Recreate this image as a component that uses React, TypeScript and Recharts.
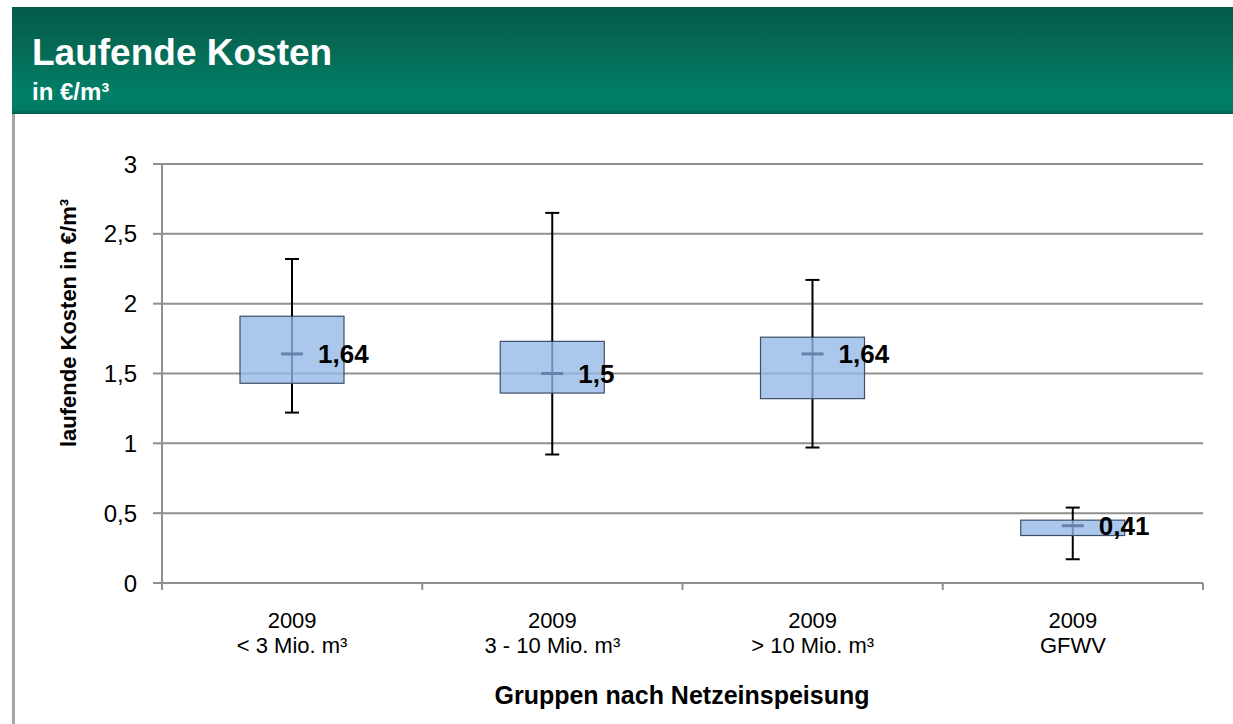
import React from 'react';
import { ComposedChart, Bar, XAxis, YAxis, CartesianGrid } from 'recharts';

const years = ['2009', '2009', '2009', '2009'];
const groups = ['< 3 Mio. m³', '3 - 10 Mio. m³', '> 10 Mio. m³', 'GFWV'];
const whiskerLow = [1.22, 0.92, 0.97, 0.17];
const quart1 = [1.43, 1.36, 1.32, 0.34];
const medians = [1.64, 1.5, 1.64, 0.41];
const quart3 = [1.91, 1.73, 1.76, 0.45];
const whiskerHigh = [2.32, 2.65, 2.17, 0.54];
const yTicks = [0, 0.5, 1, 1.5, 2, 2.5, 3];

const data = groups.map((g, i) => ({
  name: g,
  year: years[i],
  base: whiskerLow[i],
  lower: quart1[i] - whiskerLow[i],
  box: quart3[i] - quart1[i],
  upper: whiskerHigh[i] - quart3[i],
  q3: quart3[i],
  median: medians[i],
}));

const FONT = '"Liberation Sans", Arial, sans-serif';
const GRID = '#8f8f8f';
const W = 1233;
const H = 724;
const LEFT = 162;
const RIGHT = 30;
const HALF_BAND = (W - LEFT - RIGHT) / groups.length / 2;
const CAP = 7;

const fmt = (v: number) => String(v).replace('.', ',');

const LowerWhisker = (props: any) => {
  const { x, y, width, height } = props;
  const cx = x + width / 2;
  return (
    <g>
      <line x1={cx} x2={cx} y1={y} y2={y + height} stroke="#000" strokeWidth={2} />
      <line x1={cx - CAP} x2={cx + CAP} y1={y + height} y2={y + height} stroke="#000" strokeWidth={2} />
    </g>
  );
};

const UpperWhisker = (props: any) => {
  const { x, y, width, height } = props;
  const cx = x + width / 2;
  return (
    <g>
      <line x1={cx} x2={cx} y1={y} y2={y + height} stroke="#000" strokeWidth={2} />
      <line x1={cx - CAP} x2={cx + CAP} y1={y} y2={y} stroke="#000" strokeWidth={2} />
    </g>
  );
};

const BoxShape = (props: any) => {
  const { x, y, width, height, payload } = props;
  const cx = x + width / 2;
  // median position from the bar's own pixel scale
  const perUnit = height / payload.box;
  const my = y + (payload.q3 - payload.median) * perUnit;
  return (
    <g>
      <line x1={cx} x2={cx} y1={y} y2={y + height} stroke="#000" strokeWidth={2} />
      <rect x={x} y={y} width={width} height={height} fill="#94b7e6" fillOpacity={0.78} stroke="#3d4f68" strokeWidth={1.2} />
      <rect x={cx - 11} y={my - 1.5} width={22} height={3} fill="#6482ab" />
      <text x={cx + 26} y={my + 9.5} fontSize={26} fontWeight="bold" fontFamily={FONT} fill="#000">
        {fmt(payload.median)}
      </text>
    </g>
  );
};

const XTick = (props: any) => {
  const { x, y, payload, index } = props;
  const d = data[index];
  return (
    <g>
      <line x1={x - HALF_BAND} x2={x - HALF_BAND} y1={y} y2={y + 7} stroke={GRID} strokeWidth={2} />
      {index === groups.length - 1 && (
        <line x1={x + HALF_BAND} x2={x + HALF_BAND} y1={y} y2={y + 7} stroke={GRID} strokeWidth={2} />
      )}
      <text x={x} y={y + 45} textAnchor="middle" fontSize={22} fontFamily={FONT} fill="#000">
        {d ? d.year : ''}
      </text>
      <text x={x} y={y + 70} textAnchor="middle" fontSize={22} fontFamily={FONT} fill="#000">
        {payload.value}
      </text>
    </g>
  );
};

const App = () => {
  return (
    <div style={{ position: 'absolute', left: 0, top: 0, width: W, height: H, background: '#fff', overflow: 'hidden' }}>
      {/* Header */}
      <div
        style={{
          position: 'absolute',
          left: 12,
          top: 7,
          width: W - 12,
          height: 107,
          background: 'linear-gradient(to bottom, #035b49 0%, #066a55 40%, #017f68 80%, #007a64 96%, #005d4b 100%)',
          fontFamily: FONT,
          color: '#fff',
          fontWeight: 'bold',
        }}
      >
        <div style={{ position: 'absolute', left: 20, top: 25, fontSize: 37, lineHeight: '42px' }}>Laufende Kosten</div>
        <div style={{ position: 'absolute', left: 20, top: 71, fontSize: 24, lineHeight: '28px' }}>in €/m³</div>
      </div>
      <div style={{ position: 'absolute', left: 12, top: 114, width: 3, height: H - 114, background: '#a6a6a6' }} />

      <div style={{ position: 'absolute', left: 0, top: 0 }}>
        <ComposedChart width={W} height={H} data={data} margin={{ top: 164, right: RIGHT, bottom: 0, left: 0 }}>
          <CartesianGrid vertical={false} stroke={GRID} strokeWidth={2} />
          <XAxis
            dataKey="name"
            height={141}
            interval={0}
            tickLine={false}
            tickSize={0}
            tickMargin={0}
            axisLine={{ stroke: GRID, strokeWidth: 2 }}
            tick={<XTick />}
            label={(p: any) => (
              <text x={682} y={704} textAnchor="middle" fontSize={25} fontWeight="bold" fontFamily={FONT} fill="#000">
                Gruppen nach Netzeinspeisung
              </text>
            )}
          />
          <YAxis
            width={LEFT}
            domain={[0, 3]}
            ticks={yTicks}
            interval={0}
            tickSize={9}
            tickMargin={16}
            tickFormatter={fmt}
            axisLine={{ stroke: GRID, strokeWidth: 2 }}
            tickLine={{ stroke: GRID, strokeWidth: 2 }}
            tick={{ fontSize: 24, fontFamily: FONT, fill: '#000' }}
            label={(p: any) => (
              <text
                x={76}
                y={323}
                textAnchor="middle"
                transform="rotate(-90, 76, 323)"
                fontSize={22}
                fontWeight="bold"
                fontFamily={FONT}
                fill="#000"
              >
                laufende Kosten in €/m³
              </text>
            )}
          />
          <Bar dataKey="base" stackId="b" barSize={104} fill="none" isAnimationActive={false} shape={() => null} />
          <Bar dataKey="lower" stackId="b" barSize={104} isAnimationActive={false} shape={<LowerWhisker />} />
          <Bar dataKey="box" stackId="b" barSize={104} isAnimationActive={false} shape={<BoxShape />} />
          <Bar dataKey="upper" stackId="b" barSize={104} isAnimationActive={false} shape={<UpperWhisker />} />
        </ComposedChart>
      </div>
    </div>
  );
};

export default App;
